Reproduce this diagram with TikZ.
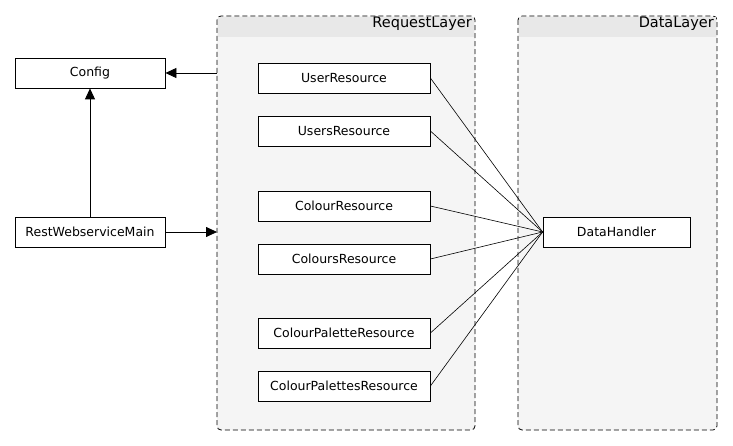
\documentclass[tikz,border=0pt]{standalone}
\usepackage{fontspec}
\setmainfont{DejaVu Sans}
\usepackage{tikz}
\usetikzlibrary{arrows.meta}

\begin{document}
\begin{tikzpicture}[x=1pt,y=-1pt,
	box/.style={draw,fill=white,line width=0.8pt,minimum width=172pt,minimum height=30pt,
		inner sep=0pt,font=\fontsize{12.5}{15}\selectfont},
	layer/.style={draw,dash pattern=on 5pt off 3pt,line width=0.8pt,rounded corners=4pt,fill=black!4},
	layertitle/.style={anchor=north east,inner sep=2pt,font=\fontsize{14.5}{17}\selectfont},
	dep/.style={-{Triangle[length=11pt,width=10pt]},line width=0.8pt},
	use/.style={line width=0.6pt}]
	\useasboundingbox (0,0) rectangle (733,446);
	% layers
	\draw [layer] (217,16) rectangle (475,430);
	\fill [black!9] (218,17) rectangle (474,37);
	\node [layertitle] (reqtitle) at (474,15) {RequestLayer};
	\draw [layer] (518,16) rectangle (717,430);
	\fill [black!9] (519,17) rectangle (716,37);
	\node [layertitle] (datatitle) at (716,15) {DataLayer};
	\coordinate (reqin) at (217,232);
	\coordinate (reqout) at (217,73);
	% boxes
	\node [box,minimum width=150pt] (config) at (90,73) {Config};
	\node [box,minimum width=150pt] (main) at (90,232) {RestWebserviceMain};
	\node [box] (user) at (344,78) {UserResource};
	\node [box] (users) at (344,131) {UsersResource};
	\node [box] (colour) at (344,206) {ColourResource};
	\node [box] (colours) at (344,259) {ColoursResource};
	\node [box] (palette) at (344,333) {ColourPaletteResource};
	\node [box] (palettes) at (344,386) {ColourPalettesResource};
	\node [box,minimum width=147pt] (handler) at (616.5,232) {DataHandler};
	% connectors
	\draw [dep] (main) -- (config);
	\draw [dep] (main) -- (reqin);
	\draw [dep] (reqout) -- (config);
	\foreach \r in {user,users,colour,colours,palette,palettes}
		\draw [use] (\r.east) -- (handler.west);
\end{tikzpicture}
\end{document}
